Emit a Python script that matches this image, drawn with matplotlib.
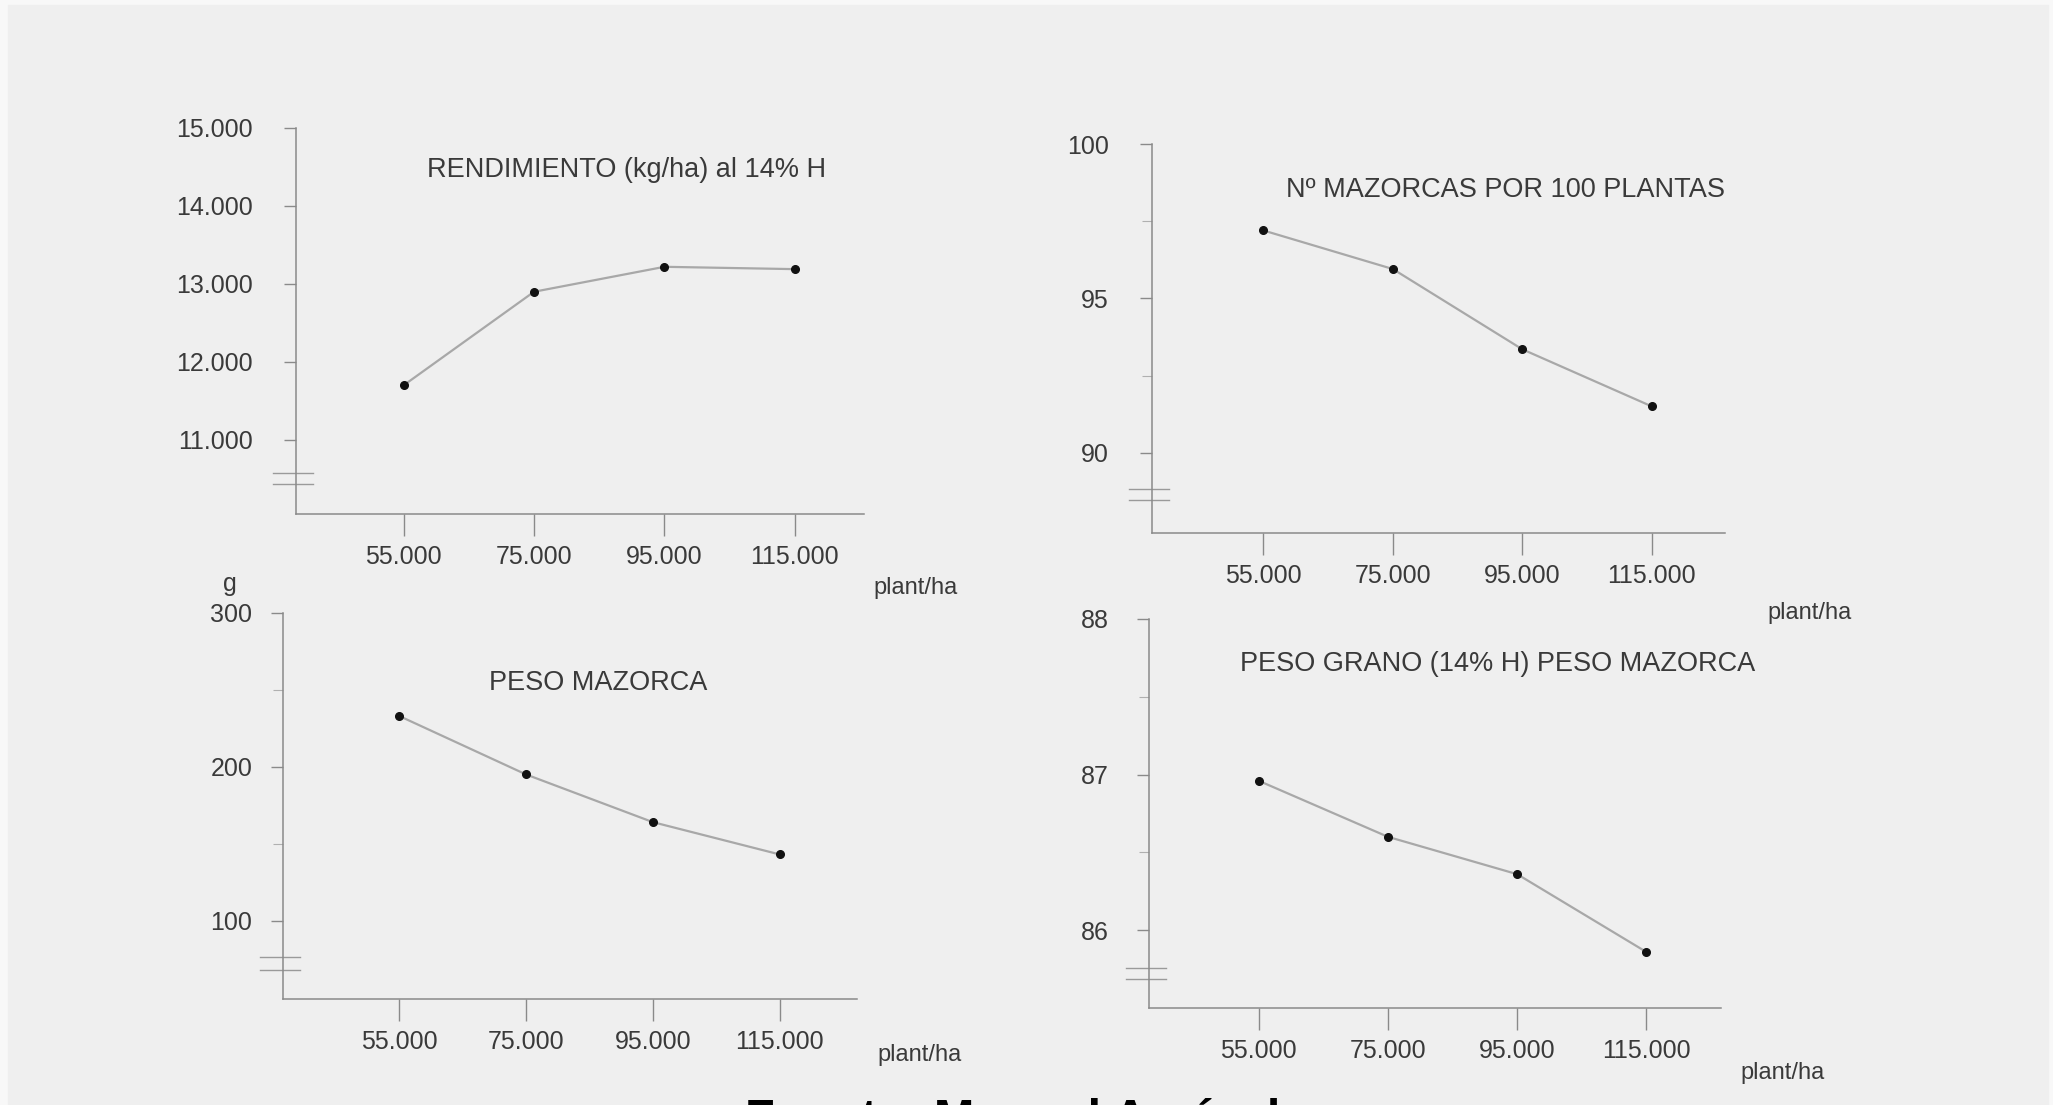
import matplotlib
matplotlib.use("Agg")
import matplotlib.pyplot as plt
from matplotlib.patches import Rectangle

plt.rcParams['font.family'] = ['Liberation Sans', 'DejaVu Sans']

W, H = 2053, 1105

# data
densidad = [55000, 75000, 95000, 115000]
densidad_labels = ['55.000', '75.000', '95.000', '115.000']

rendimiento = [11700, 12900, 13220, 13190]
mazorcas_100 = [97.2, 95.95, 93.35, 91.5]
peso_mazorca = [233, 195, 164, 143]
peso_grano = [86.96, 86.60, 86.36, 85.86]

rend_ticks = [11000, 12000, 13000, 14000, 15000]
rend_labels = ['11.000', '12.000', '13.000', '14.000', '15.000']
maz_ticks = [90, 95, 100]
maz_minor = [92.5, 97.5]
peso_ticks = [100, 200, 300]
peso_minor = [150, 250]
grano_ticks = [86, 87, 88]
grano_minor = [86.5, 87.5]

AX_COL = '#8a8a8a'
TXT_COL = '#3a3a3a'


def px_to_fig(x, y):
    return x / W, 1 - y / H


def make_panel(fig, box, xlim, ylim, y, yticks, ylabels, yminor, title, title_xy,
               unit_xy, breaks, ypad):
    left, top, right, bottom = box
    ax = fig.add_axes([left / W, 1 - bottom / H, (right - left) / W, (bottom - top) / H])
    ax.set_facecolor('none')
    ax.plot(densidad, y, '-', color='#a8a8a8', lw=1.6, zorder=2)
    ax.plot(densidad, y, 'o', color='#111111', ms=5.5, zorder=3)
    ax.set_xlim(*xlim)
    ax.set_ylim(*ylim)

    ax.set_xticks(densidad)
    ax.set_xticklabels(densidad_labels)
    ax.set_yticks(yticks)
    ax.set_yticklabels(ylabels)
    if yminor:
        ax.set_yticks(yminor, minor=True)

    for s in ['top', 'right']:
        ax.spines[s].set_visible(False)
    for s in ['left', 'bottom']:
        ax.spines[s].set_color(AX_COL)
        ax.spines[s].set_linewidth(1.1)

    ax.tick_params(axis='x', direction='out', length=16, width=1.0, color=AX_COL,
                   labelsize=18, labelcolor=TXT_COL, pad=6)
    ax.tick_params(axis='y', which='major', direction='out', length=9, width=1.0,
                   color=AX_COL, labelsize=18, labelcolor=TXT_COL, pad=ypad)
    ax.tick_params(axis='y', which='minor', direction='out', length=7, width=0.8,
                   color='#b0b0b0')

    # axis break marks on the y axis
    for yb in breaks:
        ax.plot([-0.04, 0.03], [yb, yb], transform=ax.transAxes, color='#9a9a9a',
                lw=1.0, clip_on=False)

    tx, ty = px_to_fig(*title_xy)
    fig.text(tx, ty, title, ha='center', va='center', fontsize=19.5, color=TXT_COL)
    ux, uy = px_to_fig(*unit_xy)
    fig.text(ux, uy, 'plant/ha', ha='center', va='center', fontsize=17, color=TXT_COL)
    return ax


fig = plt.figure(figsize=(W / 100, H / 100), dpi=100, facecolor='#f8f8f8')
fig.patches.append(Rectangle((8 / W, 0), (W - 13) / W, 1 - 5 / H,
                             transform=fig.transFigure, color='#efefef', zorder=-10))

# top left: rendimiento
make_panel(fig, (296, 128, 864, 514), (38500, 125600), (10050, 15000),
           rendimiento, rend_ticks, rend_labels, None,
           'RENDIMIENTO (kg/ha) al 14% H', (627, 170), (916, 588),
           [0.105, 0.078], 22)

# top right: mazorcas por 100 plantas
make_panel(fig, (1152, 144, 1725, 533), (37800, 126300), (87.4, 100),
           mazorcas_100, maz_ticks, [str(v) for v in maz_ticks], maz_minor,
           'Nº MAZORCAS POR 100 PLANTAS', (1505, 190), (1810, 613),
           [0.114, 0.084], 22)

# bottom left: peso mazorca
make_panel(fig, (283, 613, 857, 999), (36650, 127200), (49, 300),
           peso_mazorca, peso_ticks, [str(v) for v in peso_ticks], peso_minor,
           'PESO MAZORCA', (598, 683), (920, 1055),
           [0.108, 0.075], 13)

# bottom right: peso grano / peso mazorca
make_panel(fig, (1149, 619, 1721, 1008), (38000, 126560), (85.5, 88),
           peso_grano, grano_ticks, [str(v) for v in grano_ticks], grano_minor,
           'PESO GRANO (14% H) PESO MAZORCA', (1498, 664), (1783, 1073),
           [0.104, 0.074], 20)

gx, gy = px_to_fig(230, 584)
fig.text(gx, gy, 'g', ha='center', va='center', fontsize=18, color=TXT_COL)

# footer, cut off by the lower edge of the page (as in the scan)
fig.text(0.5, (H - 1133) / H, 'Fuente: Manual Agrícola', ha='center', va='baseline',
         fontsize=35, fontweight='bold', color='black')

fig.savefig('out.png', dpi=100, facecolor=fig.get_facecolor())
